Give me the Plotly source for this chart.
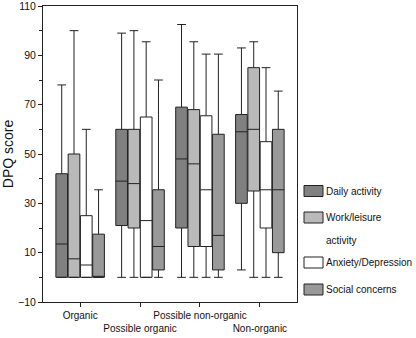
import plotly.graph_objects as go

categories = ["Organic", "Possible organic", "Possible non-organic", "Non-organic"]
series_names = ["Daily activity", "Work/leisure activity", "Anxiety/Depression", "Social concerns"]
legend_labels = ["Daily activity", "Work/leisure<br>activity", "Anxiety/Depression", "Social concerns"]

daily_low = [0, 0, 0, 3]
daily_q1 = [0, 21, 20, 30]
daily_med = [13.5, 39, 48, 59]
daily_q3 = [42, 60, 69, 66]
daily_high = [78, 99, 102.5, 93]

work_low = [0, 0, 0, 0]
work_q1 = [0, 20, 12.5, 35]
work_med = [7.5, 38, 46, 60]
work_q3 = [50, 60, 68, 85]
work_high = [100, 100, 95.5, 95.5]

anx_low = [0, 0, 0, 0]
anx_q1 = [0, 0, 12.5, 20]
anx_med = [5, 23, 35.5, 35.5]
anx_q3 = [25, 65, 65.5, 55]
anx_high = [60, 95.5, 90.5, 85]

soc_low = [0, 0, 0, 0]
soc_q1 = [0, 3, 3, 10]
soc_med = [0, 12.5, 17, 35.5]
soc_q3 = [17.5, 35.5, 58, 60]
soc_high = [35.5, 80, 90.5, 75.5]

y_tickvals = [-10, 10, 30, 50, 70, 90, 110]

colors = ["#808080", "#b9b9b9", "#ffffff", "#999999"]
stats = [
    (daily_low, daily_q1, daily_med, daily_q3, daily_high),
    (work_low, work_q1, work_med, work_q3, work_high),
    (anx_low, anx_q1, anx_med, anx_q3, anx_high),
    (soc_low, soc_q1, soc_med, soc_q3, soc_high),
]

W, H = 416, 338
ML, MR, MT, MB = 43, 119, 6, 36
PW, PH = W - ML - MR, H - MT - MB


def px_x(p):
    return (p - ML) / PW


def px_y(p):
    return (H - MB - p) / PH


fig = go.Figure()
for name, col, (lo, q1, med, q3, hi) in zip(series_names, colors, stats):
    fig.add_trace(go.Box(
        name=name,
        x=categories,
        lowerfence=lo, q1=q1, median=med, q3=q3, upperfence=hi,
        fillcolor=col,
        line=dict(color="#222222", width=1),
        whiskerwidth=0.75,
        showlegend=False,
        hoverinfo="skip",
    ))

ticktext = [c if i % 2 == 0 else "<br>" + c for i, c in enumerate(categories)]

font_family = "Arial, Liberation Sans, sans-serif"

fig.update_layout(
    width=W, height=H,
    margin=dict(l=ML, r=MR, t=MT, b=MB),
    paper_bgcolor="white",
    plot_bgcolor="white",
    boxmode="group",
    boxgap=0.18,
    boxgroupgap=0.05,
    font=dict(family=font_family, size=10, color="#111111"),
    xaxis=dict(
        type="category",
        categoryorder="array",
        categoryarray=categories,
        range=[-0.62, 3.62],
        tickvals=categories,
        ticktext=ticktext,
        tickangle=0,
        ticks="outside", ticklen=4, tickcolor="#222222",
        showline=True, linecolor="#222222", linewidth=1, mirror=True,
        showgrid=False, zeroline=False,
        tickfont=dict(size=10),
        ticklabeloverflow="allow",
        automargin=False,
        fixedrange=True,
    ),
    yaxis=dict(
        range=[-10, 110],
        tickvals=y_tickvals,
        ticks="outside", ticklen=4, tickcolor="#222222",
        minor=dict(dtick=10, tick0=0, ticks="outside", ticklen=3, tickcolor="#222222", showgrid=False),
        showline=True, linecolor="#222222", linewidth=1, mirror=True,
        showgrid=False, zeroline=False,
        tickfont=dict(size=10.5),
        ticklabeloverflow="allow",
        title=dict(text="DPQ score", font=dict(size=14), standoff=2),
        automargin=False,
        fixedrange=True,
    ),
)

# custom legend (swatches + labels), positioned in pixels
legend_rows = [(185.5, 196.5, 191), (212, 223, 217.5), (257, 268, 262.5), (284, 295, 289.5)]
for (y0, y1, yc), col, lab in zip(legend_rows, colors, legend_labels):
    fig.add_shape(type="rect", xref="paper", yref="paper",
                  x0=px_x(304), x1=px_x(323), y0=px_y(y1), y1=px_y(y0),
                  fillcolor=col, line=dict(color="#222222", width=1))
    lines = lab.split("<br>")
    for k, ln in enumerate(lines):
        fig.add_annotation(xref="paper", yref="paper", x=px_x(324), y=px_y(yc + k * 23.5),
                           text=ln, showarrow=False, xanchor="left", yanchor="middle",
                           font=dict(size=10, family=font_family, color="#111111"))

fig.write_html("out.html", config={"displayModeBar": False},
               post_script="document.body.style.margin='0';document.body.style.overflow='hidden';")
